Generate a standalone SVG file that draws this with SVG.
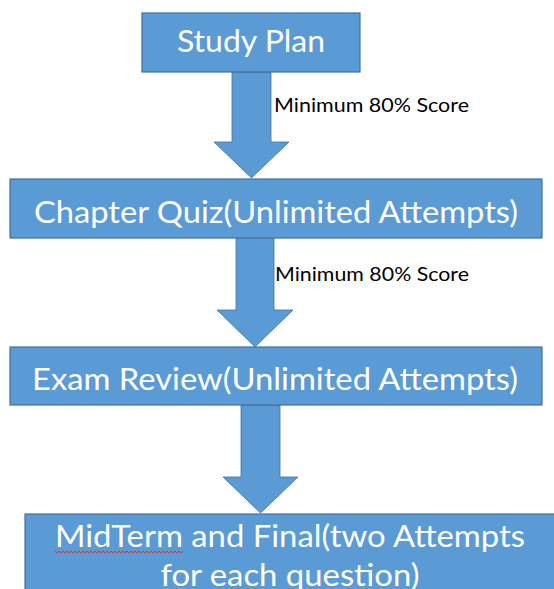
<svg xmlns="http://www.w3.org/2000/svg" width="554" height="589" viewBox="0 0 554 589">
<style>
.box{fill:#5B9BD5;stroke:#41719C;stroke-width:1.2}
.arr{fill:#5B9BD5;stroke:#41719C;stroke-width:0.8}
.t{font-family:Lato,"Liberation Sans",sans-serif;font-size:31px;fill:#FFFFFF;text-anchor:middle}
.lbl{font-family:Lato,"Liberation Sans",sans-serif;font-size:19px;fill:#000000}
</style>
<rect width="554" height="589" fill="#FFFFFF"/>
<g id="connectors">
<polygon class="arr" points="232,72 271,72 271,142 289,142 251.5,178 214,142 232,142"/>
<polygon class="arr" points="236,238 274,238 274,310 293,310 255,347 217,310 236,310"/>
<polygon class="arr" points="241,405 280,405 280,477 298,477 260.5,513 223,477 241,477"/>
<text class="lbl" x="274" y="112" textLength="195" lengthAdjust="spacingAndGlyphs">Minimum 80% Score</text>
<text class="lbl" x="275" y="281" textLength="194" lengthAdjust="spacingAndGlyphs">Minimum 80% Score</text>
</g>
<g id="study-plan">
<rect class="box" x="142" y="13" width="218" height="59"/>
<text class="t" x="251" y="52" textLength="148" lengthAdjust="spacingAndGlyphs">Study Plan</text>
</g>
<g id="chapter-quiz">
<rect class="box" x="10" y="179" width="532" height="59"/>
<text class="t" x="276" y="223" textLength="484" lengthAdjust="spacingAndGlyphs">Chapter Quiz(Unlimited Attempts)</text>
</g>
<g id="exam-review">
<rect class="box" x="10" y="347" width="532" height="58"/>
<text class="t" x="275" y="390" textLength="486" lengthAdjust="spacingAndGlyphs">Exam Review(Unlimited Attempts)</text>
</g>
<g id="midterm-final">
<rect class="box" x="25" y="514" width="540" height="90"/>
<text class="t" x="290" y="547" textLength="470" lengthAdjust="spacingAndGlyphs">MidTerm and Final(two Attempts</text>
<text class="t" x="290" y="586" textLength="259" lengthAdjust="spacingAndGlyphs">for each question)</text>
<polyline fill="none" stroke="#E03030" stroke-width="1" points="55,551 57,553 59,551 61,553 63,551 65,553 67,551 69,553 71,551 73,553 75,551 77,553 79,551 81,553 83,551 85,553 87,551 89,553 91,551 93,553 95,551 97,553 99,551 101,553 103,551 105,553 107,551 109,553 111,551 113,553 115,551 117,553 119,551 121,553 123,551 125,553 127,551 129,553 131,551 133,553 135,551 137,553 139,551 141,553 143,551 145,553 147,551 149,553 151,551 153,553 155,551 157,553 159,551 161,553 163,551 165,553 167,551 169,553 171,551 173,553 175,551 177,553 179,551 181,553 183,551"/>
</g>
</svg>
